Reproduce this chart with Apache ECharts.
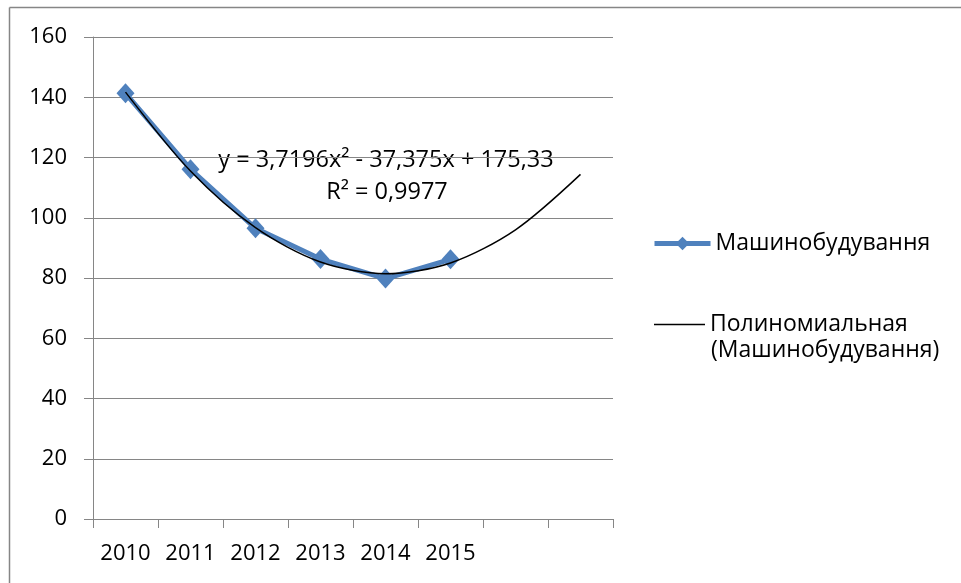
<!DOCTYPE html>
<html>
<head>
<meta charset="utf-8">
<script src="https://cdn.jsdelivr.net/npm/echarts@6/dist/echarts.min.js"></script>
<style>html,body{margin:0;padding:0;background:#fff}#c{width:961px;height:583px}</style>
</head>
<body>
<div id="c"></div>
<script>
var categories = ['2010', '2011', '2012', '2013', '2014', '2015', '', ''];
var seriesName = 'Машинобудування';
var values = [141.3, 116.1, 96.5, 86.3, 79.8, 86.2];
var trendName = 'Полиномиальная (Машинобудування)';
var trendValues = [141.7, 115.5, 96.7, 85.3, 81.4, 85.0, 96.0, 114.4];
var yTicks = { min: 0, max: 160, interval: 20 };
var equationText = 'y = 3,7196x² - 37,375x + 175,33';
var r2Text = 'R² = 0,9977';

var FONT = 'Open Sans';
var GRAY = '#868686';
var chart = echarts.init(document.getElementById('c'), null, { renderer: 'canvas' });
chart.setOption({
  animation: false,
  textStyle: { fontFamily: FONT },
  grid: { left: 93, top: 37, right: 348, bottom: 64 },
  xAxis: {
    type: 'category',
    data: categories,
    boundaryGap: true,
    axisLine: { lineStyle: { color: GRAY, width: 1 } },
    axisTick: { show: true, length: 9, alignWithLabel: false, lineStyle: { color: GRAY } },
    axisLabel: { color: '#000', fontFamily: FONT, fontSize: 22, margin: 24, interval: 0 },
    splitLine: { show: false }
  },
  yAxis: {
    type: 'value',
    min: yTicks.min, max: yTicks.max, interval: yTicks.interval,
    axisLine: { show: true, lineStyle: { color: GRAY, width: 1 } },
    axisTick: { show: true, length: 9, lineStyle: { color: GRAY } },
    axisLabel: { color: '#000', fontFamily: FONT, fontSize: 22, margin: 26 },
    splitLine: { show: true, lineStyle: { color: GRAY, width: 1 } }
  },
  legend: [
    {
      data: [seriesName],
      left: 652, top: 232, padding: 0,
      itemWidth: 56, itemHeight: 17,
      lineStyle: { width: 5 },
      textStyle: { color: '#000', fontFamily: FONT, fontSize: 23 }
    },
    {
      data: [{ name: trendName, icon: 'rect' }],
      left: 654, top: 313, padding: 0,
      itemWidth: 51, itemHeight: 1.5,
      itemStyle: { color: '#000' },
      formatter: function () { return 'Полиномиальная'; },
      textStyle: { color: '#000', fontFamily: FONT, fontSize: 23 }
    }
  ],
  graphic: [
    { type: 'line', silent: true, shape: { x1: 9.5, y1: 7.5, x2: 961, y2: 7.5 }, style: { stroke: GRAY, lineWidth: 1.5 } },
    { type: 'line', silent: true, shape: { x1: 9.5, y1: 7.5, x2: 9.5, y2: 583 }, style: { stroke: GRAY, lineWidth: 1.5 } },
    { type: 'text', left: 711, top: 339, style: { text: '(Машинобудування)', font: '23px "Open Sans"', fill: '#000' } },
    { type: 'text', x: 386, y: 160, style: { text: equationText, font: '23.5px "Open Sans"', fill: '#000', align: 'center', verticalAlign: 'middle' } },
    { type: 'text', x: 387, y: 192, style: { text: r2Text, font: '23.5px "Open Sans"', fill: '#000', align: 'center', verticalAlign: 'middle' } }
  ],
  series: [
    {
      name: seriesName,
      type: 'line',
      data: values,
      symbol: 'diamond',
      symbolSize: [18, 20],
      itemStyle: { color: '#4F81BD' },
      lineStyle: { color: '#4F81BD', width: 5 },
      z: 2
    },
    {
      name: trendName,
      type: 'line',
      data: trendValues,
      smooth: 0.3,
      showSymbol: false,
      symbol: 'none',
      itemStyle: { color: '#000' },
      lineStyle: { color: '#000', width: 1.5 },
      z: 3
    }
  ]
});
</script>
</body>
</html>
